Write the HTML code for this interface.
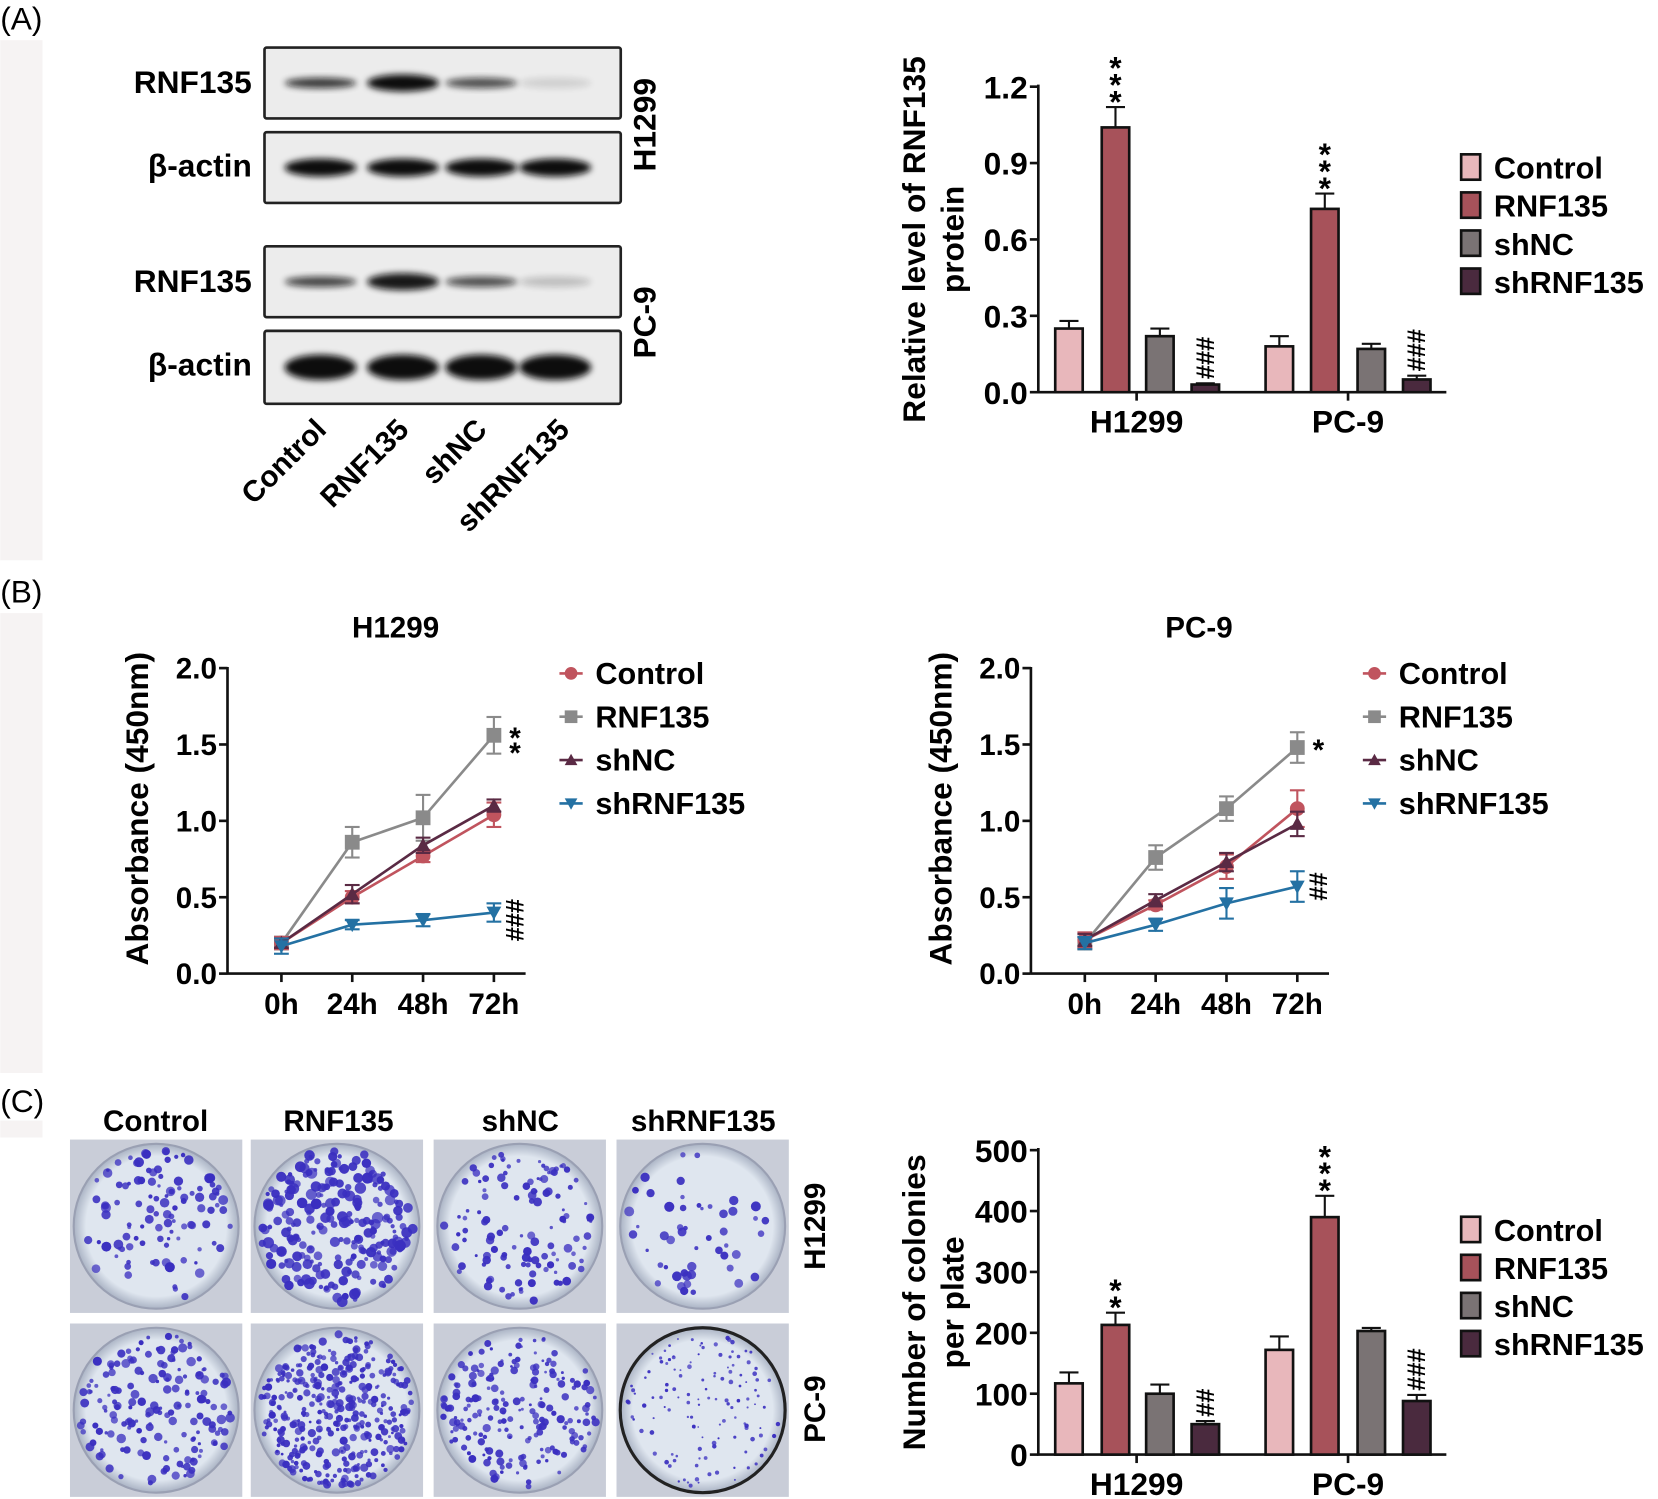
<!DOCTYPE html>
<html><head><meta charset="utf-8"><style>
body{margin:0;background:#fff}
svg{display:block;font-family:"Liberation Sans",Arial,sans-serif}
.b{font-weight:bold}
</style></head><body>
<svg id="s" width="1658" height="1499" viewBox="0 0 1568 1418" xmlns="http://www.w3.org/2000/svg">
<defs>
<filter id="bl" x="-20%" y="-50%" width="140%" height="200%"><feGaussianBlur stdDeviation="3"/></filter>
<radialGradient id="pg" cx="50%" cy="50%" r="50%"><stop offset="0.85" stop-color="#dfe6ef"/><stop offset="1" stop-color="#aab3c4"/></radialGradient>
</defs>
<rect x="0" y="38" width="40" height="492" fill="#f6f3f3"/>
<rect x="0" y="580" width="40" height="435" fill="#f6f3f3"/>
<rect x="0" y="1060" width="40" height="16" fill="#f6f3f3"/>
<text x="0" y="28" font-size="30">(A)</text>
<text x="0" y="570" font-size="30">(B)</text>
<text x="0" y="1052" font-size="30">(C)</text>
<g id="g"></g>
</svg>
<script>
var g=document.getElementById('g'),h='';
function T(x,y,t,s,a,ex){h+='<text class="b" x="'+x+'" y="'+y+'" font-size="'+s+'" text-anchor="'+(a||'start')+'" '+(ex||'')+'>'+t+'</text>';}
var boxes=[[45,112],[125,192],[233,300],[313,382]];
var lanes=[303,381,455,525];
var ints=[[0.8,1,0.7,0.12],[1,1,1,1],[0.75,0.95,0.7,0.2],[1,1,1,1]];
boxes.forEach(function(b,i){
 h+='<rect x="250" y="'+b[0]+'" width="337" height="'+(b[1]-b[0])+'" fill="#ececec" stroke="#222" stroke-width="2.5" rx="2"/>';
 var cy=(b[0]+b[1])/2;
 lanes.forEach(function(x,j){var k=ints[i][j];var hh=(i==0||i==2)?(j==1?16:10):(i==1?17:24);
  h+='<ellipse cx="'+x+'" cy="'+cy+'" rx="34" ry="'+hh/2+'" fill="#111" opacity="'+k+'" filter="url(#bl)"/>';});
});
T(238,88,'RNF135',30,'end');T(238,167,'β-actin',30,'end');T(238,276,'RNF135',30,'end');T(238,355,'β-actin',30,'end');
T(620,118,'H1299',30,'middle','transform="rotate(-90 620 118)"');
T(620,305,'PC-9',30,'middle','transform="rotate(-90 620 305)"');
[['Control',310,408],['RNF135',388,408],['shNC',462,408],['shRNF135',540,408]].forEach(function(l){
 T(l[1],l[2],l[0],28,'end','transform="rotate(-45 '+l[1]+' '+l[2]+')"');});
var cols=['#e8b7bb','#a7525a','#7a7374','#4a2a3e'],names=['Control','RNF135','shNC','shRNF135'];
var xs=[1011,1055,1097,1140,1210,1253,1297,1340];
function stars(x,y,n){for(var i=0;i<n;i++)T(x,y-i*16,'*',30,'middle');}
function bars(y0,y1,max,step,fmt,vals,errs,marks,ylab,ly){
 var sc=(y0-y1)/max,ax=982;
 h+='<line x1="'+ax+'" y1="'+(y1-2)+'" x2="'+ax+'" y2="'+(y0+1)+'" stroke="#111" stroke-width="2.5"/>';
 h+='<line x1="'+(ax-1)+'" y1="'+y0+'" x2="1368" y2="'+y0+'" stroke="#111" stroke-width="2.5"/>';
 for(var v=0;v<=max+1e-9;v+=step){var y=y0-v*sc;h+='<line x1="'+(ax-8)+'" y1="'+y+'" x2="'+ax+'" y2="'+y+'" stroke="#111" stroke-width="2.5"/>';T(ax-10,y+11,fmt(v),30,'end');}
 [1075,1275].forEach(function(x,i){h+='<line x1="'+x+'" y1="'+y0+'" x2="'+x+'" y2="'+(y0+8)+'" stroke="#111" stroke-width="2.5"/>';T(x,y0+38,i?'PC-9':'H1299',30,'middle');});
 vals.forEach(function(v,i){var x=xs[i],top=y0-v*sc,et=top-errs[i]*sc;
  h+='<line x1="'+x+'" y1="'+top+'" x2="'+x+'" y2="'+et+'" stroke="#111" stroke-width="2"/><line x1="'+(x-9)+'" y1="'+et+'" x2="'+(x+9)+'" y2="'+et+'" stroke="#111" stroke-width="2"/>';
  h+='<rect x="'+(x-13)+'" y="'+top+'" width="26" height="'+(y0-top)+'" fill="'+cols[i%4]+'" stroke="#111" stroke-width="2.5"/>';
  var m=marks[i];
  if(m&&m[0]=='*')stars(x,et+5,m.length);
  else if(m){var my=et-4;T(x+8,my,m,24,'start','transform="rotate(-90 '+(x+8)+' '+my+')"');}
 });
 var cy=(y0+y1)/2;
 [875,911].forEach(function(x,i){T(x,cy,ylab[i],30,'middle','transform="rotate(-90 '+x+' '+cy+')"');});
 names.forEach(function(n,i){var y=ly+i*36;h+='<rect x="1382" y="'+(y-12)+'" width="18" height="24" fill="'+cols[i]+'" stroke="#111" stroke-width="2.5"/>';T(1413,y+11,n,29);});
}
bars(371,82,1.2,0.3,function(v){return v.toFixed(1)},[.25,1.04,.22,.03,.18,.72,.17,.05],[.03,.08,.03,.005,.04,.06,.02,.015],[0,'***',0,'###',0,'***',0,'###'],['Relative level of RNF135','protein'],158);
bars(1376,1088,500,100,function(v){return Math.round(v)},[117,213,100,50,172,390,203,88],[18,20,15,5,22,35,5,10],[0,'**',0,'##',0,'***',0,'###'],['Number of colonies','per plate'],1163);
var lc=['#c0545e','#8a8a8a','#5a2a44','#2471a3'];
function line(ax,title,data,errs,mk){
 var y0=921,y1=632,sc=(y0-y1)/2,tx=[ax+51,ax+118,ax+185,ax+252];
 h+='<line x1="'+ax+'" y1="'+(y1-1)+'" x2="'+ax+'" y2="'+y0+'" stroke="#111" stroke-width="2.5"/><line x1="'+ax+'" y1="'+y0+'" x2="'+(ax+282)+'" y2="'+y0+'" stroke="#111" stroke-width="2.5"/>';
 for(var v=0;v<=2;v+=0.5){var y=y0-v*sc;h+='<line x1="'+(ax-8)+'" y1="'+y+'" x2="'+ax+'" y2="'+y+'" stroke="#111" stroke-width="2.5"/>';T(ax-10,y+10,v.toFixed(1),28,'end');}
 ['0h','24h','48h','72h'].forEach(function(t,i){h+='<line x1="'+tx[i]+'" y1="'+y0+'" x2="'+tx[i]+'" y2="'+(y0+8)+'" stroke="#111" stroke-width="2.5"/>';T(tx[i],y0+38,t,28,'middle');});
 T(ax+159,603,title,28,'middle');
 var cy=765,lx=ax-75;T(lx,cy,'Absorbance (450nm)',30,'middle','transform="rotate(-90 '+lx+' '+cy+')"');
 [1,0,2,3].forEach(function(s){var d=data[s],pts=d.map(function(v,i){return tx[i]+','+(y0-v*sc)}).join(' ');
  h+='<polyline points="'+pts+'" fill="none" stroke="'+lc[s]+'" stroke-width="2.5"/>';
  d.forEach(function(v,i){var x=tx[i],y=y0-v*sc,e=errs[s][i]*sc;
   h+='<line x1="'+x+'" y1="'+(y-e)+'" x2="'+x+'" y2="'+(y+e)+'" stroke="'+lc[s]+'" stroke-width="2"/><line x1="'+(x-7)+'" y1="'+(y-e)+'" x2="'+(x+7)+'" y2="'+(y-e)+'" stroke="'+lc[s]+'" stroke-width="2"/><line x1="'+(x-7)+'" y1="'+(y+e)+'" x2="'+(x+7)+'" y2="'+(y+e)+'" stroke="'+lc[s]+'" stroke-width="2"/>';
   h+=marker(s,x,y,7);});
 });
 mk.forEach(function(m){var x=tx[3]+20,y=y0-m[1]*sc;
  if(m[0][0]=='*'){for(var i=0;i<m[0].length;i++)T(x,y+12+i*14,'*',28,'middle');}
  else T(x,y,m[0],24,'middle','transform="rotate(-90 '+x+' '+y+')" dy="8"');});
 names.forEach(function(n,i){var y=637+i*41;h+='<line x1="'+(ax+314)+'" y1="'+y+'" x2="'+(ax+336)+'" y2="'+y+'" stroke="'+lc[i]+'" stroke-width="2.5"/>'+marker(i,ax+325,y,6);T(ax+348,y+10,n,29);});
}
function marker(s,x,y,r){var c=lc[s];
 if(s==0)return '<circle cx="'+x+'" cy="'+y+'" r="'+r+'" fill="'+c+'"/>';
 if(s==1)return '<rect x="'+(x-r)+'" y="'+(y-r)+'" width="'+2*r+'" height="'+2*r+'" fill="'+c+'"/>';
 if(s==2)return '<polygon points="'+x+','+(y-r)+' '+(x+r)+','+(y+r*0.8)+' '+(x-r)+','+(y+r*0.8)+'" fill="'+c+'"/>';
 return '<polygon points="'+x+','+(y+r)+' '+(x+r)+','+(y-r*0.8)+' '+(x-r)+','+(y-r*0.8)+'" fill="'+c+'"/>';}
line(215,'H1299',[[.2,.5,.77,1.04],[.2,.86,1.02,1.56],[.2,.52,.84,1.1],[.18,.32,.35,.4]],[[.04,.04,.04,.08],[.04,.1,.15,.12],[.03,.06,.05,.04],[.05,.03,.04,.06]],[['**',1.56],['###',.35]]);
line(975,'PC-9',[[.22,.45,.7,1.08],[.2,.76,1.08,1.48],[.22,.48,.73,.98],[.2,.32,.46,.57]],[[.05,.03,.08,.12],[.04,.08,.08,.1],[.04,.04,.06,.08],[.04,.04,.1,.1]],[['*',1.48],['##',.57]]);
T(147,1070,'Control',28,'middle');T(320,1070,'RNF135',28,'middle');T(492,1070,'shNC',28,'middle');T(665,1070,'shRNF135',28,'middle');
T(780,1160,'H1299',28,'middle','transform="rotate(-90 780 1160)"');T(780,1333,'PC-9',28,'middle','transform="rotate(-90 780 1333)"');
var seed=7;function rnd(){seed=(seed*16807)%2147483647;return seed/2147483647;}
var px=[66,237,410,583],py=[1078,1252],dens=[[110,230,120,50],[170,380,200,130]],sz=[[3.2,3.6,2.8,3.2],[3,2.6,2.6,1.5]];
py.forEach(function(y,r){px.forEach(function(x,c){
 h+='<rect x="'+x+'" y="'+y+'" width="163" height="164" fill="#c9cdd8"/>';
 var cx=x+81.5,cy=y+82,R=78;
 h+='<circle cx="'+cx+'" cy="'+cy+'" r="'+R+'" fill="url(#pg)" stroke="'+(r==1&&c==3?'#222':'#9aa0b3')+'" stroke-width="'+(r==1&&c==3?3:2)+'"/>';
 for(var i=0;i<dens[r][c];i++){var a=rnd()*6.283,d=Math.sqrt(rnd())*(R-5);var s=sz[r][c]*(0.5+rnd());
  h+='<circle cx="'+(cx+Math.cos(a)*d).toFixed(1)+'" cy="'+(cy+Math.sin(a)*d).toFixed(1)+'" r="'+s.toFixed(1)+'" fill="#3a2fc0" opacity="'+(0.7+rnd()*0.3).toFixed(2)+'"/>';}
});});
g.innerHTML=h;
</script>
</body></html>
